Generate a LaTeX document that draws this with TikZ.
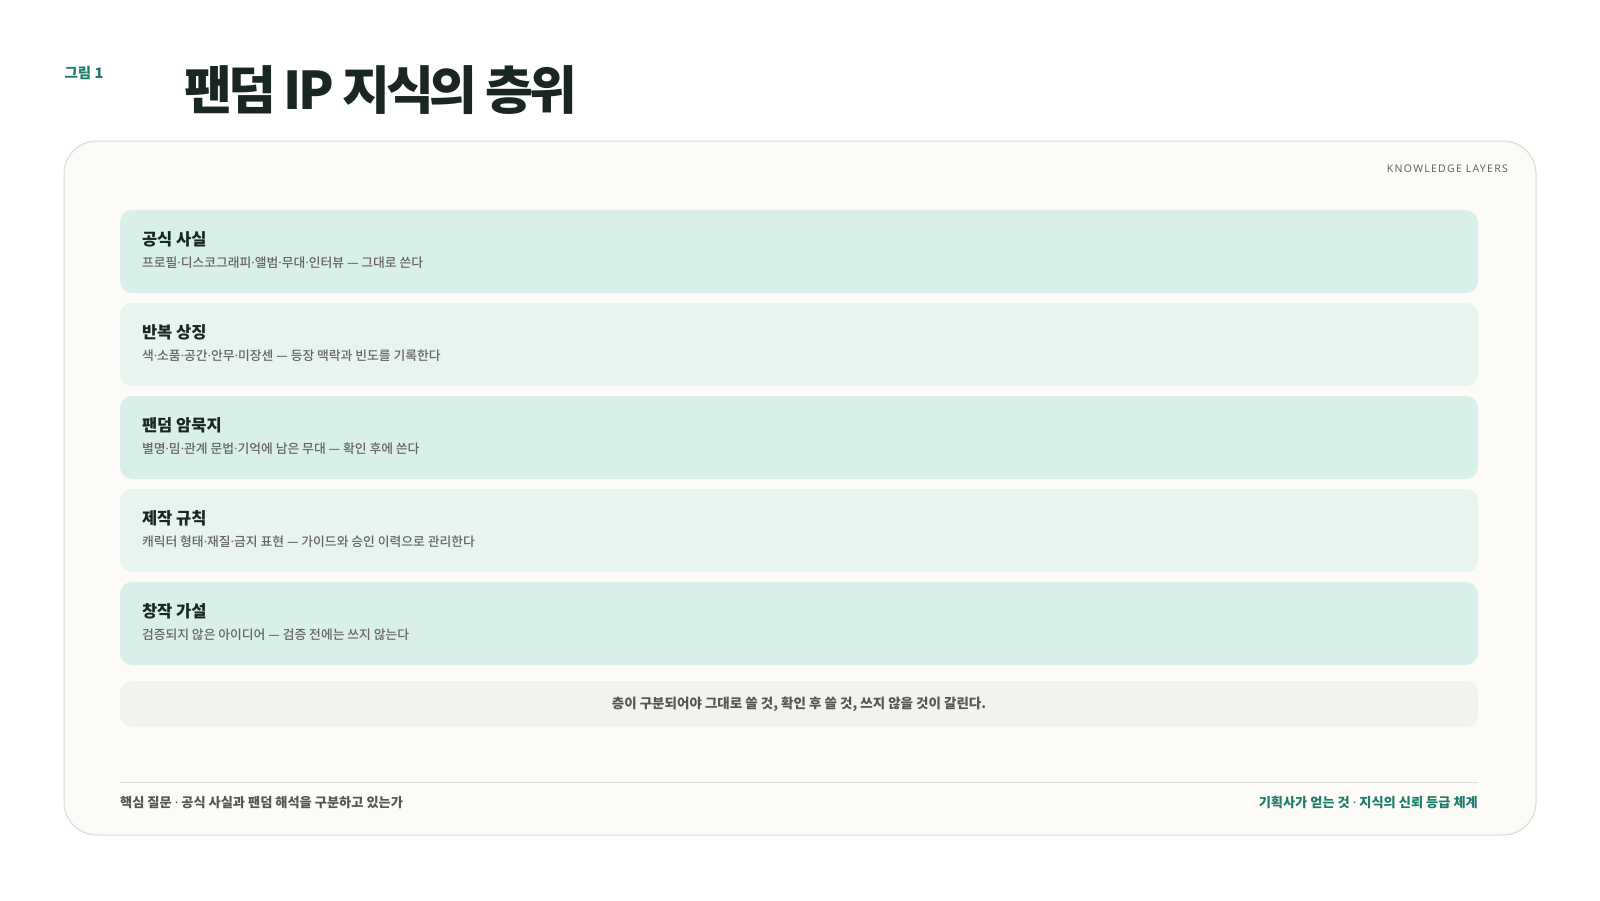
\documentclass[tikz,border=0pt]{standalone}
\usepackage{fontspec}
\setmainfont{Noto Sans CJK KR}
\newfontfamily\latinfont{Noto Sans}
\newfontfamily\heavyfont{Noto Sans CJK KR Black}
\newfontfamily\medfont{Noto Sans CJK KR Medium}
\newcommand\md{{\latinfont ·}}
\usetikzlibrary{positioning}

\definecolor{ink}{HTML}{1A2620}
\definecolor{mute}{HTML}{66665F}
\definecolor{teal}{HTML}{1E7C6C}
\definecolor{paper}{HTML}{FCFBF8}
\definecolor{edge}{HTML}{DCDAD4}
\definecolor{mintA}{HTML}{D8F0E9}
\definecolor{mintB}{HTML}{E7F4EF}
\definecolor{noteg}{HTML}{F3F2EE}

\tikzset{
  layer/.style={minimum width=1358pt, minimum height=83pt, rounded corners=12pt, inner sep=0pt},
  head/.style={anchor=west, inner sep=0pt, text=ink, font=\fontsize{16.5}{18}\selectfont\bfseries},
  sub/.style={anchor=west, inner sep=0pt, text=mute, font=\medfont\fontsize{12.8}{14}\selectfont},
  foot/.style={inner sep=0pt, font=\fontsize{13.2}{15}\selectfont\bfseries}
}

\begin{document}
\begin{tikzpicture}[x=1pt,y=-1pt]

\useasboundingbox[fill=white] (0,0) rectangle (1600,900);

\node (fig) at (84,73)[inner sep=0pt, text=teal, font=\fontsize{14.5}{16}\selectfont\bfseries]{그림 1};
\node (title) at (184,90)[anchor=west, inner sep=0pt, text=ink, font=\heavyfont\fontsize{52}{60}\selectfont\addfontfeature{LetterSpace=-7.5}]{팬덤 IP 지식의 층위};

\node (panel) at (800,488)[draw=edge, fill=paper, line width=1pt, minimum width=1472pt, minimum height=694pt, rounded corners=33pt]{};

\node (tag) at (1508,169)[anchor=east, inner sep=0pt, text=mute, font=\latinfont\fontsize{10.5}{12}\selectfont\addfontfeature{LetterSpace=12}]{KNOWLEDGE LAYERS};

% layers, top to bottom
\foreach \i/\c/\t/\s in {
  1/mintA/공식 사실/프로필\md 디스코그래피\md 앨범\md 무대\md 인터뷰 — 그대로 쓴다,
  2/mintB/반복 상징/색\md 소품\md 공간\md 안무\md 미장센 — 등장 맥락과 빈도를 기록한다,
  3/mintA/팬덤 암묵지/별명\md 밈\md 관계 문법\md 기억에 남은 무대 — 확인 후에 쓴다,
  4/mintB/제작 규칙/캐릭터 형태\md 재질\md 금지 표현 — 가이드와 승인 이력으로 관리한다,
  5/mintA/창작 가설/검증되지 않은 아이디어 — 검증 전에는 쓰지 않는다}
{
\node (band\i) at (799,{251.5+93*(\i-1)})[layer, fill=\c]{};
\node (head\i) at ([xshift=22pt,yshift=12.5pt]band\i.west)[head]{\t};
\node (sub\i) at ([xshift=22pt,yshift=-11pt]band\i.west)[sub]{\s};
}

\node (note) at (799,704)[fill=noteg, minimum width=1358pt, minimum height=46pt, rounded corners=12pt, inner sep=0pt, text=mute!85!black, font=\fontsize{13.5}{15}\selectfont\bfseries]{층이 구분되어야 그대로 쓸 것, 확인 후 쓸 것, 쓰지 않을 것이 갈린다.};

\coordinate (rule l) at (120,782);
\coordinate (rule r) at (1478,782);
\draw[edge, line width=1pt] (rule l) -- (rule r);

\node (ask) at (120,803)[foot, anchor=west, text=mute!85!black]{핵심 질문 \md{} 공식 사실과 팬덤 해석을 구분하고 있는가};
\node (gain) at (1478,803)[foot, anchor=east, text=teal]{기획사가 얻는 것 \md{} 지식의 신뢰 등급 체계};

\end{tikzpicture}
\end{document}
